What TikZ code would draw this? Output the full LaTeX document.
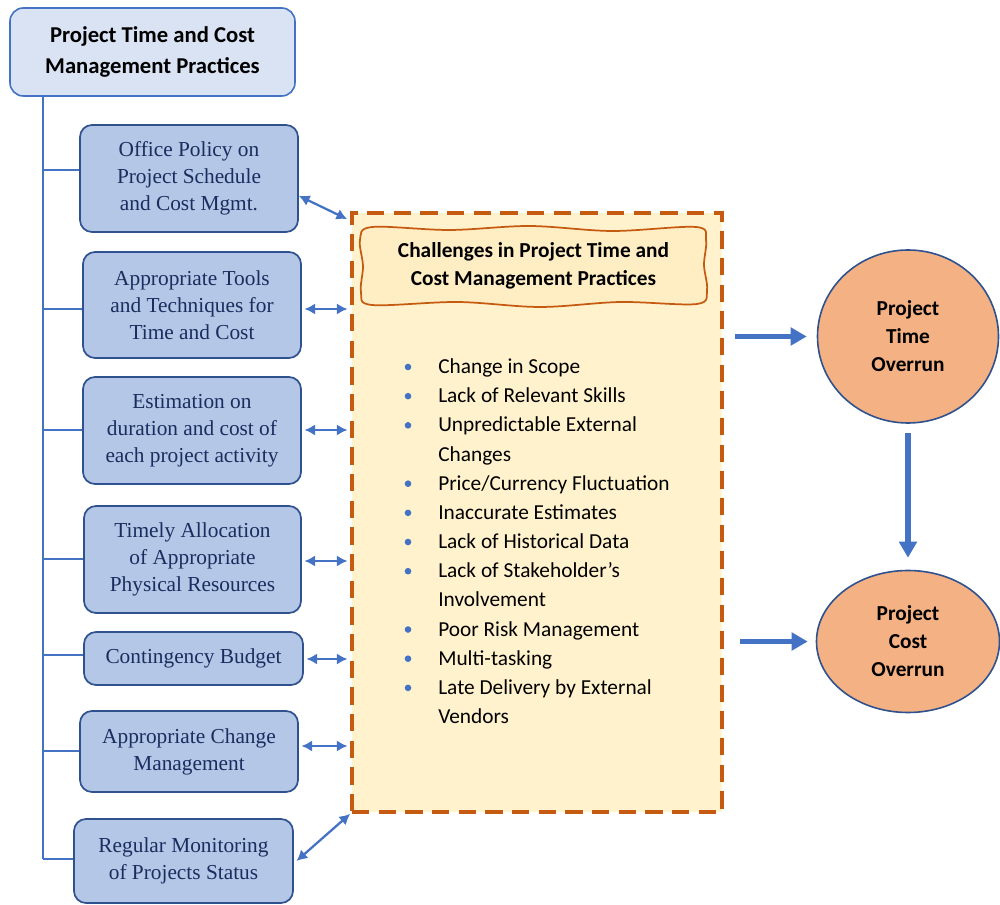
\documentclass[tikz,border=0pt]{standalone}
\usepackage{fontspec}
\setmainfont{Carlito}
\newfontfamily\tnr{Liberation Serif}
\usetikzlibrary{arrows.meta,shapes.geometric}
\definecolor{kline}{HTML}{4472C4}
\definecolor{kdark}{HTML}{2F528F}
\definecolor{knavy}{HTML}{1A2D5E}
\definecolor{ktop}{HTML}{DAE3F3}
\definecolor{kbox}{HTML}{B4C7E7}
\definecolor{kpale}{HTML}{FFF2CC}
\definecolor{kinner}{HTML}{FFEDC4}
\definecolor{krust}{HTML}{C55A11}
\definecolor{kpeach}{HTML}{F4B183}
\begin{document}
\begin{tikzpicture}[x=0.75pt,y=-0.75pt,
 head/.style={draw=kline,line width=1.2pt,fill=ktop,rounded corners=10pt,align=center,font=\fontsize{17}{23}\selectfont\bfseries},
 prac/.style={draw=kdark,line width=1.3pt,fill=kbox,rounded corners=9pt,align=center,text=knavy,font=\tnr\fontsize{16}{20.3}\selectfont},
 chal/.style={draw=krust,line width=2.8pt,dash pattern=on 13pt off 7pt,fill=kpale},
 wavy/.style={draw=krust,line width=1.3pt,fill=kinner},
 ctitle/.style={align=center,font=\fontsize{16}{21}\selectfont\bfseries},
 item/.style={anchor=base west,inner sep=0pt,font=\fontsize{16}{20}\selectfont},
 over/.style={ellipse,draw=kdark,line width=1.2pt,fill=kpeach,align=center,font=\fontsize{16}{21}\selectfont\bfseries},
 spine/.style={draw=kline,line width=1.5pt},
 link/.style={draw=kline,line width=1.7pt,{Latex[length=8pt,width=8.5pt]}-{Latex[length=8pt,width=8.5pt]}},
 flow/.style={draw=kline,line width=3.8pt,-{Triangle[length=12pt,width=13pt]}}]
\pgfmathsetmacro{\kpx}{0.75}
\useasboundingbox(0,0)rectangle(1000,905);
\node[head,minimum width=285*\kpx pt,minimum height=88*\kpx pt](hd)at(152.5,52){Project Time and Cost\\Management Practices};
\foreach \n/\x/\y/\w/\h/\t in {p1/189/178.5/218/107/{Office Policy on\\Project Schedule\\and Cost Mgmt.},p2/192/305/218/106/{Appropriate Tools\\and Techniques for\\Time and Cost},p3/192/430.5/218/107/{Estimation on\\duration and cost of\\each project activity},p4/192.5/559.5/217/107/{Timely Allocation\\of Appropriate\\Physical Resources},p5/193.5/658.5/219/53/{Contingency Budget},p6/189/751.5/218/81/{Appropriate Change\\Management},p7/183.5/861/219/84/{Regular Monitoring\\of Projects Status}}
  {\node[prac,minimum width=\w*\kpx pt,minimum height=\h*\kpx pt](\n)at(\x,\y){\t};}
\coordinate(sp)at(hd.south -| 43,0);
\draw[spine](sp)--(sp |- 0,859);
\foreach \n/\y in {p1/170,p2/309,p3/430,p4/559,p5/655,p6/751,p7/859}{\draw[spine](sp |- 0,\y)--(\n.west |- 0,\y);}
\node[chal,minimum width=370*\kpx pt,minimum height=599*\kpx pt](ch)at(537,512.5){};
\draw[wavy]plot[smooth cycle,tension=0.55]coordinates{(372,227)(450,230)(530,226)(612,231)(696,227)(706,240)(704,265)(707,290)(697,304)(620,302)(540,307)(458,302)(372,305)(361,292)(363,266)(360,240)};
\node[ctitle](ct)at(533.5,265.5){Challenges in Project Time and\\Cost Management Practices};
\foreach \t [count=\i from 0] in {Change in Scope,Lack of Relevant Skills,Unpredictable External,Changes,Price/Currency Fluctuation,Inaccurate Estimates,Lack of Historical Data,Lack of Stakeholder’s,Involvement,Poor Risk Management,Multi-tasking,Late Delivery by External,Vendors}
  {\node[item](l\i)at(438,373.5+29.17*\i){\t};}
\foreach \i in {0,1,2,4,5,6,7,9,10,11}{\fill[kline](408,367+29.17*\i)circle(3.3);}
\draw[link]([yshift=-13pt]p1.east)--([shift={(-3,8)}]ch.north west);
\foreach \n/\y in {p2/309,p3/430,p4/561,p5/659,p6/746}{\draw[link,shorten <=2pt,shorten >=2pt](\n.east |- 0,\y)--(ch.west |- 0,\y);}
\draw[link]([xshift=2pt]p7.east)--(ch.south west);
\node[over,minimum width=181*\kpx pt,minimum height=173*\kpx pt](ot)at(908,336.5){Project\\Time\\Overrun};
\node[over,minimum width=183*\kpx pt,minimum height=142*\kpx pt](oc)at(908,641.5){Project\\Cost\\Overrun};
\draw[flow,shorten <=8pt,shorten >=7.5pt](ch.east |- ot.west)--(ot.west);
\draw[flow,shorten <=12pt,shorten >=6pt](ch.east |- oc.west)--(oc.west);
\draw[flow,shorten <=7pt,shorten >=9pt](ot.south)--(oc.north);
\end{tikzpicture}
\end{document}
